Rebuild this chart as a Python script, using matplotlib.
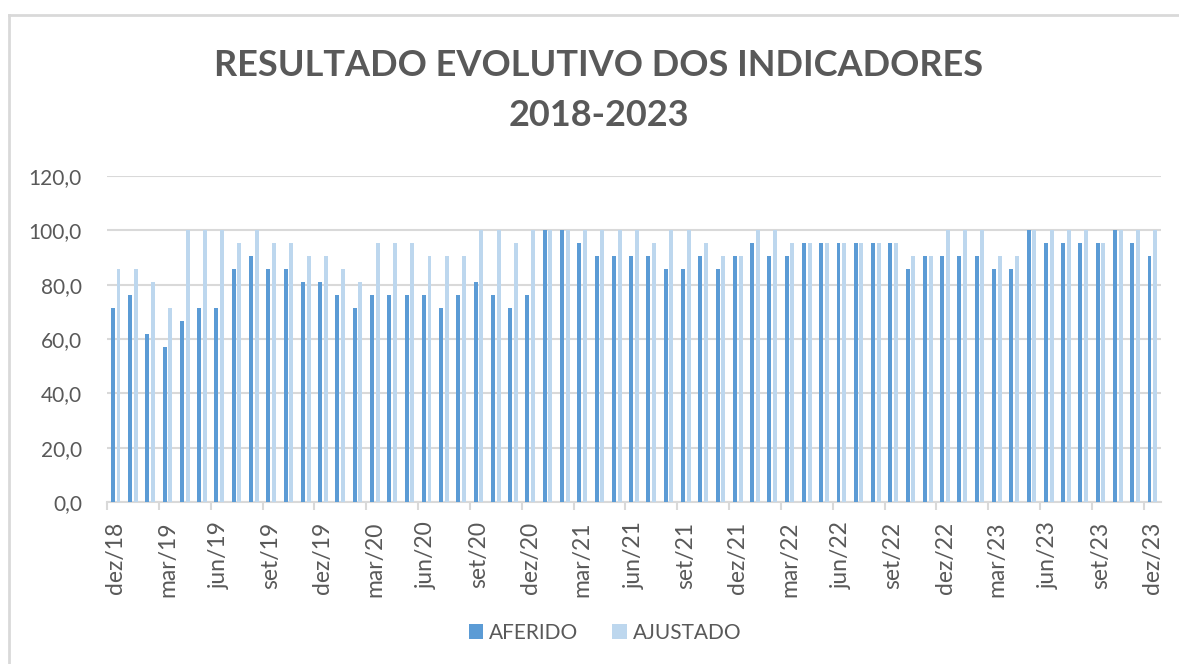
import numpy as np
import matplotlib.pyplot as plt
from matplotlib.lines import Line2D

# monthly results, dez/18 .. dez/23
meses = ["jan", "fev", "mar", "abr", "mai", "jun", "jul", "ago", "set", "out", "nov", "dez"]
periodos = ["dez/18"] + [f"{m}/{a}" for a in range(19, 24) for m in meses]

aferido = [
    71.4, 76.2, 61.9, 57.1, 66.7, 71.4, 71.4, 85.7, 90.5, 85.7, 85.7, 81.0, 81.0,
    76.2, 71.4, 76.2, 76.2, 76.2, 76.2, 71.4, 76.2, 81.0, 76.2, 71.4, 76.2,
    100.0, 100.0, 95.2, 90.5, 90.5, 90.5, 90.5, 85.7, 85.7, 90.5, 85.7, 90.5,
    95.2, 90.5, 90.5, 95.2, 95.2, 95.2, 95.2, 95.2, 95.2, 85.7, 90.5, 90.5,
    90.5, 90.5, 85.7, 85.7, 100.0, 95.2, 95.2, 95.2, 95.2, 100.0, 95.2, 90.5,
]
ajustado = [
    85.7, 85.7, 81.0, 71.4, 100.0, 100.0, 100.0, 95.2, 100.0, 95.2, 95.2, 90.5, 90.5,
    85.7, 81.0, 95.2, 95.2, 95.2, 90.5, 90.5, 90.5, 100.0, 100.0, 95.2, 100.0,
    100.0, 100.0, 100.0, 100.0, 100.0, 100.0, 95.2, 100.0, 100.0, 95.2, 90.5, 90.5,
    100.0, 100.0, 95.2, 95.2, 95.2, 95.2, 95.2, 95.2, 95.2, 90.5, 90.5, 100.0,
    100.0, 100.0, 90.5, 90.5, 100.0, 100.0, 100.0, 100.0, 95.2, 100.0, 100.0, 100.0,
]

cinza = "#595959"
grade = "#D9D9D9"
azul = "#5B9BD5"
azul_claro = "#BDD7EE"

plt.rcParams['font.family'] = ['Lato', 'DejaVu Sans']

fig = plt.figure(figsize=(11.79, 6.64), dpi=100)
ax = fig.add_axes([107 / 1179, 1 - 502 / 664, (1161 - 107) / 1179, (502 - 176) / 664])

x = np.arange(len(periodos))
w = 0.23
ax.bar(x - 0.165, aferido, w, color=azul, label="AFERIDO", zorder=3)
ax.bar(x + 0.165, ajustado, w, color=azul_claro, label="AJUSTADO", zorder=3)

ax.set_xlim(-0.5, len(periodos) - 0.5)
ax.set_ylim(0, 120)
ax.set_yticks(np.arange(0, 121, 20))
ax.set_yticklabels([f"{v:.1f}".replace(".", ",") for v in np.arange(0, 121, 20)])
ax.yaxis.grid(True, color=grade, lw=1.5, zorder=0)
ax.set_axisbelow(True)

ax.set_xticks(x[::3])
ax.set_xticklabels(periodos[::3], rotation=90)
ax.set_xticks(np.arange(-0.5, len(periodos) - 1, 3), minor=True)
ax.tick_params(axis='x', which='major', length=0, pad=14, labelsize=16.5, labelcolor=cinza)
ax.tick_params(axis='x', which='minor', length=6, width=1.5, color=grade)
ax.tick_params(axis='y', length=0, pad=18, labelsize=15, labelcolor=cinza)

for s in ["top", "right", "left"]:
    ax.spines[s].set_visible(False)
ax.spines["bottom"].set_color(grade)
ax.spines["bottom"].set_linewidth(1.5)

fig.text(0.508, 1 - 65 / 664, "RESULTADO EVOLUTIVO DOS INDICADORES", ha="center", va="center",
         fontsize=26, fontweight="bold", color=cinza)
fig.text(0.508, 1 - 115 / 664, "2018-2023", ha="center", va="center",
         fontsize=26, fontweight="bold", color=cinza)

# chart frame
fig.add_artist(Line2D([9 / 1179, 1], [1 - 15 / 664, 1 - 15 / 664], color=grade, lw=2, transform=fig.transFigure))
fig.add_artist(Line2D([9 / 1179, 9 / 1179], [0, 1 - 15 / 664], color=grade, lw=2, transform=fig.transFigure))

leg = fig.legend(loc="center", bbox_to_anchor=(605 / 1179, 1 - 633 / 664), ncol=2, frameon=False,
                 fontsize=15, handlelength=0.7, handleheight=0.7, handletextpad=0.3, columnspacing=1.6)
for t in leg.get_texts():
    t.set_color(cinza)

fig.savefig("out.png", dpi=100)
